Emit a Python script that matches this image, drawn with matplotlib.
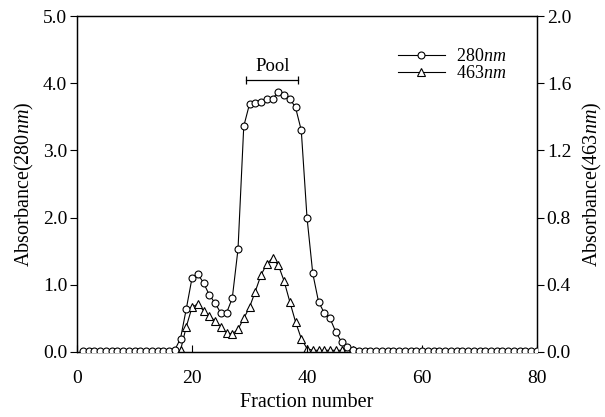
import matplotlib
matplotlib.use("Agg")
import matplotlib.pyplot as plt
from matplotlib.ticker import FormatStrFormatter

plt.rcParams['font.family'] = ['Liberation Serif', 'DejaVu Serif']
plt.rcParams['mathtext.fontset'] = 'custom'
plt.rcParams['mathtext.rm'] = 'Liberation Serif'
plt.rcParams['mathtext.it'] = 'Liberation Serif:italic'

# absorbance at 280 nm, fractions 1-80
frac_280 = list(range(1, 81))
abs_280 = ([0.01] * 16 +
           [0.03, 0.20, 0.64, 1.10, 1.16, 1.03, 0.85, 0.73, 0.58, 0.58,
            0.80, 1.53, 3.36, 3.69, 3.71, 3.72, 3.77, 3.77, 3.87, 3.82,
            3.77, 3.64, 3.30, 2.00, 1.17, 0.75, 0.58, 0.50, 0.30, 0.15,
            0.08, 0.03] +
           [0.01] * 32)

# absorbance at 463 nm, fractions 17-48
frac_463 = list(range(17, 49))
abs_463 = [0.00, 0.01, 0.15, 0.266, 0.286, 0.246, 0.214, 0.186, 0.151, 0.115,
           0.107, 0.135, 0.20, 0.266, 0.36, 0.458, 0.524, 0.558, 0.518, 0.424,
           0.30, 0.18, 0.08, 0.02, 0.01, 0.01, 0.01, 0.01, 0.01, 0.01,
           0.01, 0.01]

pool_range = (29.4, 38.5)

fig = plt.figure(figsize=(6.05, 4.17), dpi=100)
ax = fig.add_axes([0.1273, 0.1559, 0.7603, 0.8057])
ax2 = ax.twinx()

fs = 14
l2, = ax2.plot(frac_463, abs_463, '-', color='black', lw=0.8, marker='^',
               ms=5.2, mfc='white', mec='black', mew=0.8, zorder=2)
l1, = ax.plot(frac_280, abs_280, '-', color='black', lw=0.8, marker='o',
              ms=5.0, mfc='white', mec='black', mew=0.8, zorder=3)
ax.set_zorder(ax2.get_zorder() + 1)
ax.patch.set_visible(False)

ax.set_xlim(0, 80)
ax.set_ylim(0, 5)
ax2.set_ylim(0, 2)
ax.set_xticks([0, 20, 40, 60, 80])
ax.set_yticks([0, 1, 2, 3, 4, 5])
ax2.set_yticks([0, 0.4, 0.8, 1.2, 1.6, 2.0])
ax.yaxis.set_major_formatter(FormatStrFormatter('%.1f'))
ax2.yaxis.set_major_formatter(FormatStrFormatter('%.1f'))

ax.tick_params(axis='y', direction='out', length=5, width=0.8, labelsize=fs, pad=2)
ax.tick_params(axis='x', direction='in', length=5, width=0.8, labelsize=fs, pad=13)
ax2.tick_params(axis='y', direction='out', length=5, width=0.8, labelsize=fs, pad=2)
for a in (ax, ax2):
    for s in a.spines.values():
        s.set_linewidth(0.9)

ax.set_xlabel('Fraction number', fontsize=fs + 0.5, labelpad=4)
ax.set_ylabel(r'Absorbance(280$\mathit{nm}$)', fontsize=fs + 0.5, labelpad=5)
ax2.set_ylabel(r'Absorbance(463$\mathit{nm}$)', fontsize=fs + 0.5, labelpad=7)

# pooled fractions
ax.plot(pool_range, [4.05, 4.05], color='black', lw=0.9, marker='|', ms=6, mew=0.9)
ax.text(sum(pool_range) / 2, 4.12, 'Pool', ha='center', va='bottom', fontsize=13.5)

ax.legend([l1, l2], [r'280$\mathit{nm}$', r'463$\mathit{nm}$'], loc='upper left',
          bbox_to_anchor=(398 / 605, 1 - 48 / 417), bbox_transform=fig.transFigure,
          frameon=False, fontsize=13, handlelength=2.6, handletextpad=0.6,
          labelspacing=0.0, borderpad=0, borderaxespad=0)

fig.savefig('out.png', dpi=100)
